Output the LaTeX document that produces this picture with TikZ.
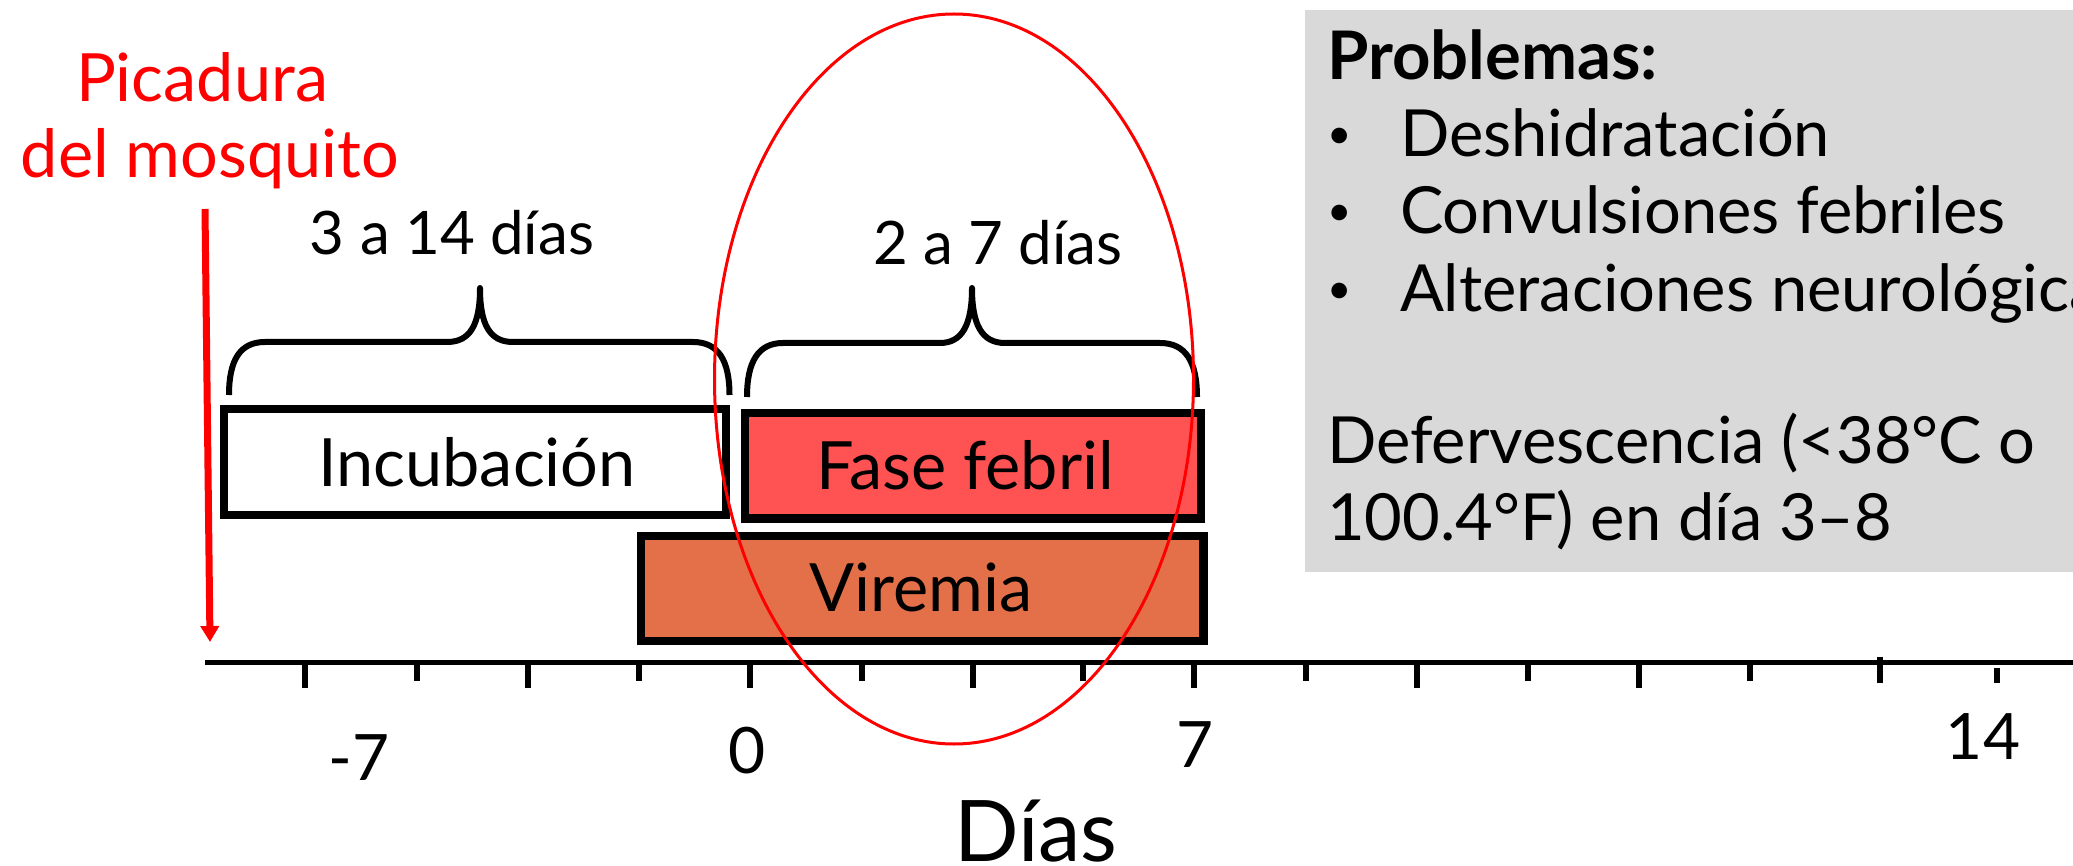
\documentclass[tikz,border=0pt]{standalone}
\usepackage{fontspec}
\setmainfont{Lato}
\usetikzlibrary{arrows.meta}
\definecolor{febril}{HTML}{FF5252}
\definecolor{viremia}{HTML}{E4704A}
\definecolor{probgray}{HTML}{D9D9D9}
\newcommand{\smallbul}{{\fontsize{21pt}{21pt}\selectfont\raisebox{4.2pt}{•}}}
\begin{document}
\begin{tikzpicture}[x=0.5pt,y=-0.5pt,
  box/.style={draw=black,line width=4.15pt,inner sep=0pt,outer sep=0pt},
  txt/.style={anchor=base,inner sep=0pt,outer sep=0pt},
  txtw/.style={anchor=base west,inner sep=0pt,outer sep=0pt},
  bigf/.style={font=\fontsize{33.3pt}{38pt}\selectfont},
  numf/.style={font=\fontsize{32pt}{38pt}\selectfont},
  brf/.style={font=\fontsize{30pt}{36pt}\selectfont},
  probf/.style={font=\fontsize{32.5pt}{37pt}\selectfont},
  titf/.style={font=\fontsize{33.5pt}{37pt}\selectfont\bfseries},
  axisf/.style={font=\fontsize{42.5pt}{48pt}\selectfont},
  bracestyle/.style={line width=3pt,line join=round},
  longtick/.style={line width=3pt},
]
\useasboundingbox (0,0) rectangle (2073,866);

% problems panel
\fill[probgray] (1305,9.6) rectangle (2080,572);
\node[txtw,titf] (ptitle) at (1327,80) {Problemas:};
\node[txtw,probf] (b1) at (1327,157) {\smallbul};
\node[txtw,probf] (p1) at (1400,157) {Deshidratación};
\node[txtw,probf] (b2) at (1327,233.5) {\smallbul};
\node[txtw,probf] (p2) at (1400,233.5) {Convulsiones febriles};
\node[txtw,probf] (b3) at (1327,312) {\smallbul};
\node[txtw,probf] (p3) at (1400,312) {Alteraciones neurológicas};
\node[txtw,probf] (d1) at (1327,463) {Defervescencia (<38°C o};
\node[txtw,probf] (d2) at (1327,540) {100.4°F) en día 3–8};

% bite label and arrow
\node[txt,bigf,text=red] (pic1) at (202,101.7) {Picadura};
\node[txt,bigf,text=red] (pic2) at (210,178) {del mosquito};
\coordinate (bite) at (205,209);
\coordinate (bitetip) at (210,642);
\draw[red,line width=3.5pt,-{Triangle[length=8pt,width=9pt]}] (bite) -- (bitetip);

% boxes
\node[box,fill=white,minimum width=250.8pt,minimum height=52.8pt] (incub) at (475,462) {};
\node[txt,bigf] (incubt) at (477,486) {Incubación};
\node[box,fill=febril,minimum width=228pt,minimum height=52.7pt] (febr) at (972.9,465.9) {};
\node[txt,bigf] (febrt) at (965,489) {Fase febril};
\node[box,fill=viremia,minimum width=281.2pt,minimum height=52.5pt] (vir) at (922.4,588.4) {};
\node[txt,bigf] (virt) at (921,611.7) {Viremia};

% braces
\draw[bracestyle] (229,395) .. controls (229,360) and (240,342) .. (265,342) -- (447,342)
  .. controls (470,342) and (480,325) .. (480,288)
  .. controls (480,325) and (490,342) .. (513,342) -- (693,342)
  .. controls (718,342) and (729.5,360) .. (729.5,395);
\node[txt,brf] (br1t) at (452,255) {3 a 14 días};
\draw[bracestyle] (747,397) .. controls (747,362) and (758,343) .. (783,343) -- (940,343)
  .. controls (962,343) and (972,325) .. (972,288)
  .. controls (972,325) and (982,343) .. (1005,343) -- (1160,343)
  .. controls (1186,343) and (1197,362) .. (1197,397);
\node[txt,brf] (br2t) at (998,265) {2 a 7 días};

% axis
\draw[line width=2.8pt] (205,662.5) -- (2080,662.5);
\foreach \x in {304.6,527.7,750.2,972.6,1193.5,1416.6,1639}
  \draw[longtick] (\x,662) -- (\x,688);
\foreach \x in {416.8,639.3,861.8,1083,1305.7,1527.5,1750}
  \draw[longtick] (\x,662) -- (\x,680.5);
\draw[longtick] (1880,656.7) -- (1880,683);
\draw[longtick] (1996.7,667.7) -- (1996.7,683);
\node[txt,numf] (lm7) at (359,780) {-7};
\node[txt,numf] (l0) at (747,773) {0};
\node[txt,numf] (l7) at (1195,767) {7};
\node[txt,numf] (l14) at (1983,759) {14};
\node[txt,axisf] (dias) at (1036,861) {Días};

% highlight ellipse
\draw[red,line width=1.5pt] (954,379) ellipse [x radius=239.5, y radius=365];
\end{tikzpicture}
\end{document}
